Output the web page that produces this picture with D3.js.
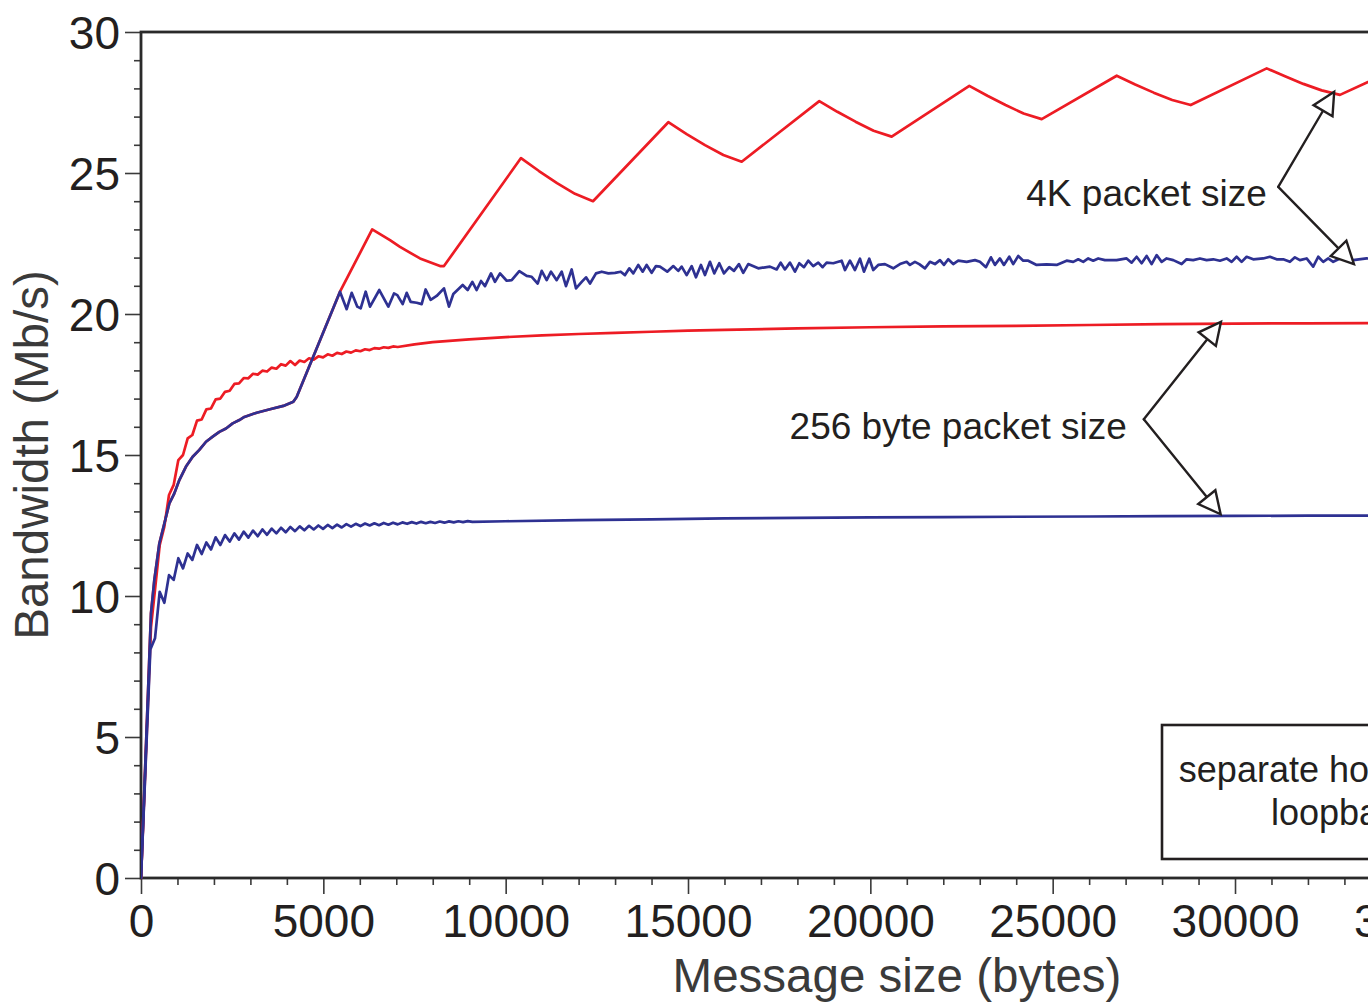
<!DOCTYPE html>
<html><head><meta charset="utf-8">
<script src="https://cdn.jsdelivr.net/npm/d3@7"></script>
<style>
html,body{margin:0;padding:0;background:#fff;overflow:hidden}
svg{display:block;font-family:"Liberation Sans",Arial,Helvetica,sans-serif}
</style>
</head><body>
<svg id="chart" width="1368" height="1007"></svg>
<script>
// ---------- data ----------
const xTicks = [0,5000,10000,15000,20000,25000,30000,35000,40000];
const yTicks = [0,5,10,15,20,25,30];
const xLabel = "Message size (bytes)";
const yLabel = "Bandwidth (Mb/s)";

// shared start of both 4K curves
const start4K = [[0,0],[274,9.38],[366,10.57],[503,11.86],[640,12.57],[777,13.28],[914,13.64],[1051,14.11],[1234,14.59],[1417,14.94],[1600,15.18],[1783,15.47],[1966,15.65],[2148,15.82],[2331,15.94],[2514,16.12],[2697,16.24],[2834,16.35],[3172,16.5],[3537,16.62],[3903,16.74],[4177,16.89],[4268,17.06],[5457,20.79]];

// separate hosts, 4K packets (red)
const red4K = [[6340,23.0],[6828,22.62],[7102,22.38],[7651,21.97],[8199,21.7],[8308,21.7],[10420,25.53],[10914,25.07],[11408,24.64],[11901,24.26],[12395,24.0],[14460,26.8],[14963,26.38],[15466,25.99],[15969,25.64],[16472,25.4],[18600,27.55],[19096,27.17],[19593,26.82],[20089,26.5],[20585,26.29],[22714,28.09],[23210,27.74],[23707,27.41],[24203,27.11],[24699,26.91],[26756,28.45],[27263,28.14],[27771,27.85],[28278,27.59],[28785,27.41],[30869,28.71],[31371,28.43],[31874,28.16],[32376,27.93],[32878,27.77],[34950,29.0],[36000,28.5]];

// loopback, 4K packets (blue)
const blue4K = [[5640,20.17],[5777,20.75],[5932,20.26],[6024,20.2],[6161,20.79],[6280,20.26],[6535,20.85],[6782,20.26],[6938,20.73],[7029,20.67],[7176,20.35],[7285,20.75],[7395,20.43],[7560,20.4],[7697,20.35],[7806,20.87],[7943,20.5],[8108,20.64],[8308,20.91],[8446,20.26],[8564,20.71],[8821,21.03],[8958,20.85],[9086,21.14],[9205,20.85],[9324,21.17],[9433,20.99],[9598,21.44],[9707,21.14],[9845,21.44],[10028,21.18],[10165,21.2],[10374,21.52],[10576,21.35],[10714,21.32],[10878,21.08],[10988,21.53],[11125,21.2],[11243,21.5],[11399,21.2],[11536,21.5],[11654,20.99],[11810,21.58],[11929,20.91],[12085,21.14],[12203,21.3],[12313,21.08],[12477,21.44],[12633,21.5],[12816,21.44],[12998,21.46],[13155,21.5],[13272,21.38],[13391,21.62],[13500,21.44],[13637,21.74],[13757,21.5],[13866,21.74],[14003,21.46],[14121,21.7],
[14231,21.68],[14431,21.5],[14596,21.7],[14733,21.53],[14826,21.68],[14963,21.38],[15100,21.7],[15218,21.3],[15355,21.74],[15465,21.38],[15602,21.85],[15720,21.44],[15857,21.8],[15986,21.44],[16131,21.66],[16260,21.53],[16397,21.77],[16515,21.46],[16652,21.77],[16926,21.62],[17247,21.68],[17431,21.58],[17541,21.82],[17658,21.58],[17796,21.82],[17933,21.5],[18051,21.8],[18179,21.66],[18297,21.89],[18434,21.7],[18572,21.82],[18692,21.66],[18802,21.82],[18983,21.8],[19213,21.89],[19304,21.56],[19441,21.89],[19578,21.56],[19715,21.96],[19825,21.5],[19970,21.96],[20080,21.56],[20217,21.74],[20400,21.77],[20628,21.62],[20812,21.77],[20995,21.85],[21086,21.74],[21223,21.85],[21341,21.77],[21497,21.62],[21634,21.85],[21771,21.77],[21909,21.91],[22018,21.74],[22136,21.94],[22273,21.77],[22410,21.89],[22641,21.85],[22868,21.91],[23005,21.85],[23170,21.66],[23307,22.01],[23417,21.74],[23554,21.97],[23663,21.74],[23809,22.03],[23918,21.77],[24056,22.06],[24193,21.89],[24330,21.89],
[24560,21.74],[24834,21.76],[25108,21.74],[25383,21.89],[25564,21.85],[25701,21.94],[25838,21.85],[25975,21.97],[26112,21.89],[26249,21.97],[26433,21.91],[26754,21.91],[27028,21.97],[27165,21.82],[27302,22.03],[27439,21.8],[27576,22.06],[27713,21.77],[27851,22.09],[27988,21.85],[28125,21.97],[28306,21.91],[28536,21.77],[28673,21.94],[28854,21.91],[29038,21.97],[29221,21.91],[29403,21.94],[29586,21.89],[29770,21.97],[29907,21.85],[30044,22.03],[30181,21.85],[30318,22.03],[30499,21.94],[30774,21.97],[30957,22.03],[31141,21.94],[31322,21.94],[31506,21.85],[31643,22.01],[31780,21.91],[31963,21.97],[32144,21.68],[32282,22.03],[32419,21.85],[32556,21.97],[32693,21.85],[32877,21.97],[33241,21.91],[33609,21.97],[34200,21.93],[35000,21.96],[36000,21.95]];

// separate hosts, 256 byte packets (red)
const red256 = [[0,0],[274,8.9],[393,10.33],[512,11.8],[640,12.46],[768,13.58],[896,13.94],[1024,14.82],[1152,15.0],[1280,15.59],[1408,15.71],[1536,16.22],[1664,16.26],[1792,16.62],[1920,16.65],[2048,16.97],[2176,17.0],[2304,17.24],[2432,17.28],[2560,17.52],[2688,17.54],[2816,17.73],[2944,17.72],[3072,17.88],[3200,17.85],[3328,17.99],[3456,17.96],[3584,18.1],[3712,18.06],[3840,18.22],[3968,18.17],[4096,18.33],[4224,18.19],[4352,18.35],[4480,18.3],[4608,18.43],[4736,18.38],[4864,18.5],[4992,18.46],[5120,18.57],[5248,18.52],[5376,18.62],[5504,18.58],[5632,18.67],[5760,18.63],[5888,18.71],[6016,18.68],[6144,18.75],[6272,18.72],[6400,18.79],[6528,18.77],[6656,18.82],[6784,18.8],[6912,18.85],[7040,18.83],[7500,18.92],[8000,19.0],[9000,19.1],[10000,19.18],[11000,19.24],[12000,19.29],[13000,19.33],[14000,19.37],[15000,19.41],[16000,19.44],[18000,19.49],[20000,19.53],[22000,19.56],[24000,19.58],[26000,19.61],[28000,19.64],[30000,19.66],[32000,19.67],[34000,19.68],[36000,19.69]];

// loopback, 256 byte packets (blue)
const blue256 = [[0,0],[256,8.1],[384,8.5],[512,10.15],[640,9.76],[768,10.74],[896,10.57],[1024,11.34],[1152,10.98],[1280,11.51],[1408,11.28],[1536,11.81],[1664,11.49],[1792,11.9],[1920,11.65],[2048,12.08],[2176,11.81],[2304,12.16],[2432,11.93],[2560,12.22],[2688,12.0],[2816,12.28],[2944,12.07],[3072,12.32],[3200,12.12],[3328,12.36],[3456,12.17],[3584,12.39],[3712,12.22],[3840,12.42],[3968,12.26],[4096,12.45],[4224,12.3],[4352,12.47],[4480,12.33],[4608,12.49],[4736,12.36],[4864,12.5],[4992,12.38],[5120,12.52],[5248,12.41],[5376,12.53],[5504,12.43],[5632,12.55],[5760,12.46],[5888,12.56],[6016,12.48],[6144,12.57],[6272,12.5],[6400,12.58],[6528,12.51],[6656,12.59],[6784,12.53],[6912,12.6],[7040,12.54],[7168,12.61],[7296,12.56],[7424,12.62],[7552,12.57],[7680,12.63],[7808,12.58],[7936,12.63],[8064,12.59],[8192,12.64],[8320,12.6],[8448,12.645],[8576,12.61],[8704,12.65],[8832,12.62],[8960,12.655],[9088,12.63],[10000,12.65],[12000,12.69],[14000,12.72],[16000,12.75],[18000,12.77],[20000,12.79],[22000,12.8],[24000,12.81],[26000,12.82],[28000,12.83],[30000,12.84],[32000,12.85],[34000,12.85],[36000,12.86]];

// annotations (data coordinates)
const annLabels = ["4K packet size", "256 byte packet size"];
const annTextAt = [[30875, 23.84], [27036, 15.57]];
const annVertex = [[31185, 24.51], [27499, 16.27]];
const annTips = [[[32720, 27.88], [33261, 21.77]], [[29614, 19.72], [29606, 12.9]]];
const legendLines = ["separate hosts", "loopback"];

// ---------- drawing ----------
const RED = "#ed1c24", BLUE = "#2e3192", INK = "#231f20";
const svg = d3.select("#chart");
const x = d3.scaleLinear().domain([0, 40000]).range([141, 141 + 0.036467 * 40000]);
const y = d3.scaleLinear().domain([0, 30]).range([878, 32]);
const [x0, x1] = x.range(), [y0, y1] = y.range();

// minor ticks
const xMinor = d3.range(0, 40001, 1000).filter(v => v % 5000 !== 0);
const yMinor = d3.range(0, 31, 1).filter(v => v % 5 !== 0);

const xAxis = d3.axisBottom(x).tickValues(xTicks).tickSize(16).tickFormat(d => d);
const yAxis = d3.axisLeft(y).tickValues(yTicks).tickSize(16).tickFormat(d => d);
const xAxisMinor = d3.axisBottom(x).tickValues(xMinor).tickSize(7).tickFormat("");
const yAxisMinor = d3.axisLeft(y).tickValues(yMinor).tickSize(7).tickFormat("");

function styleAxis(g) {
  g.select(".domain").remove();
  g.selectAll(".tick line").attr("stroke", "#3a3a3a").attr("stroke-width", 1.6);
  g.selectAll(".tick text").attr("fill", INK).attr("font-size", 46)
    .attr("font-family", '"Liberation Sans",Arial,sans-serif');
}
svg.append("g").attr("transform", `translate(0,${y0})`).call(xAxisMinor).call(styleAxis);
svg.append("g").attr("transform", `translate(${x0},0)`).call(yAxisMinor).call(styleAxis);
const gx = svg.append("g").attr("transform", `translate(0,${y0})`).call(xAxis).call(styleAxis);
gx.selectAll(".tick text").attr("y", 0).attr("dy", 0).attr("transform", "translate(0,59)");
const gy = svg.append("g").attr("transform", `translate(${x0},0)`).call(yAxis).call(styleAxis);
gy.selectAll(".tick text").attr("x", -21).attr("dy", 0).attr("transform", "translate(0,16)");

// frame
svg.append("rect").attr("x", x0).attr("y", y1).attr("width", x1 - x0).attr("height", y0 - y1)
  .attr("fill", "none").attr("stroke", "#2a2a2a").attr("stroke-width", 2.8);

// axis titles
svg.append("text").attr("x", 897).attr("y", 992).attr("text-anchor", "middle")
  .attr("font-size", 47.5).attr("fill", "#3a3a3a").text(xLabel);
svg.append("text").attr("transform", "translate(48,455) rotate(-90)").attr("text-anchor", "middle")
  .attr("font-size", 47.5).attr("fill", "#3a3a3a").text(yLabel);

// clip
svg.append("clipPath").attr("id", "plotclip").append("rect")
  .attr("x", x0).attr("y", y1 - 2).attr("width", x1 - x0).attr("height", y0 - y1 + 4);

const line = d3.line().x(d => x(d[0])).y(d => y(d[1]));
const gl = svg.append("g").attr("clip-path", "url(#plotclip)");
const series = [
  {data: red256, color: RED},
  {data: start4K.concat(red4K), color: RED},
  {data: blue256, color: BLUE},
  {data: start4K.concat(blue4K), color: BLUE}
];
gl.selectAll("path").data(series).join("path")
  .attr("d", d => line(d.data)).attr("fill", "none")
  .attr("stroke", d => d.color).attr("stroke-width", 2.7)
  .attr("stroke-linejoin", "round").attr("stroke-linecap", "round");

// annotations
const AL = 22, AW = 11;
annLabels.forEach((lab, i) => {
  const g = svg.append("g");
  g.append("text").attr("x", x(annTextAt[i][0])).attr("y", y(annTextAt[i][1]))
    .attr("text-anchor", "end").attr("font-size", 37).attr("fill", INK).text(lab);
  const vx = x(annVertex[i][0]), vy = y(annVertex[i][1]);
  annTips[i].forEach(t => {
    const tx = x(t[0]), ty = y(t[1]);
    const dx = tx - vx, dy = ty - vy, L = Math.hypot(dx, dy);
    const ux = dx / L, uy = dy / L, nx = -uy, ny = ux;
    const bx = tx - AL * ux, by = ty - AL * uy;
    g.append("line").attr("x1", vx).attr("y1", vy).attr("x2", bx).attr("y2", by)
      .attr("stroke", INK).attr("stroke-width", 2.4).attr("stroke-linecap", "round");
    g.append("path")
      .attr("d", `M${tx},${ty}L${bx + AW * nx},${by + AW * ny}L${bx - AW * nx},${by - AW * ny}Z`)
      .attr("fill", "#fff").attr("stroke", INK).attr("stroke-width", 2.4).attr("stroke-linejoin", "miter");
  });
});

// legend box
const lg = svg.append("g");
lg.append("rect").attr("x", 1162).attr("y", 725).attr("width", 400).attr("height", 134)
  .attr("fill", "#fff").attr("stroke", INK).attr("stroke-width", 2.6);
legendLines.forEach((t, i) => {
  lg.append("text").attr("x", 1415).attr("y", 782 + i * 43).attr("text-anchor", "end")
    .attr("font-size", 36).attr("fill", INK).text(t);
});
</script>
</body></html>
